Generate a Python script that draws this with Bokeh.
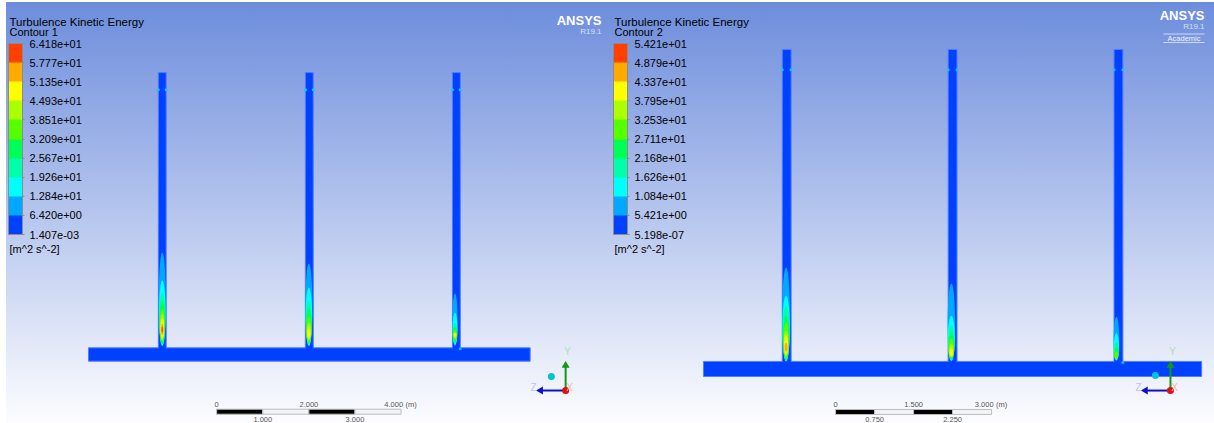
from bokeh.plotting import figure
from bokeh.layouts import row
from bokeh.models import ColorBar, FixedTicker, Label, LinearColorMapper, Range1d
from bokeh.embed import file_html
from bokeh.resources import INLINE
import math

# Contour palette, bottom band to top band
palette = ["#0040ff", "#00a8ff", "#00ffff", "#00ffaa", "#00ff55",
           "#55ff00", "#aaff00", "#ffff00", "#ffaa00", "#ff4000"]
legend_1 = ["1.407e-03", "6.420e+00", "1.284e+01", "1.926e+01", "2.567e+01", "3.209e+01",
            "3.851e+01", "4.493e+01", "5.135e+01", "5.777e+01", "6.418e+01"]
legend_2 = ["5.198e-07", "5.421e+00", "1.084e+01", "1.626e+01", "2.168e+01", "2.711e+01",
            "3.253e+01", "3.795e+01", "4.337e+01", "4.879e+01", "5.421e+01"]

# Geometry in metres
header_length = 9.58
header_height = 0.29
pipe_centres = [1.60, 4.79, 7.98]
pipe_width = 0.17
pipe_top_1 = 6.26
pipe_top_2 = 6.29

# Plume contour tops / bottoms (m), band 1 upward, per pipe
tops_1 = [[2.36, 1.75, 1.49, 1.32, 1.14, 1.03, 0.93, 0.82, 0.75],
          [2.12, 1.60, 1.32, 1.14, 0.97, 0.84, 0.73],
          [1.47, 1.05, 0.83, 0.74, 0.68, 0.63, 0.61]]
bottoms_1 = [[0.33, 0.33, 0.36, 0.38, 0.42, 0.45, 0.49, 0.56, 0.62],
             [0.33, 0.33, 0.36, 0.38, 0.40, 0.45, 0.50],
             [0.33, 0.35, 0.38, 0.42, 0.46, 0.50, 0.54]]
tops_2 = [[2.10, 1.56, 1.37, 1.17, 1.04, 0.88, 0.79, 0.65],
          [1.79, 1.17, 0.98, 0.83, 0.73, 0.63, 0.54],
          [1.15, 0.83, 0.67, 0.56, 0.48]]
bottoms_2 = [[0.29, 0.29, 0.30, 0.32, 0.35, 0.38, 0.42, 0.48],
             [0.30, 0.30, 0.31, 0.33, 0.35, 0.37, 0.39],
             [0.31, 0.31, 0.32, 0.33, 0.34]]
half_widths = [0.075, 0.072, 0.066, 0.060, 0.052, 0.045, 0.038, 0.028, 0.016]
width_factor_1 = [1.0, 1.0, 0.75]
width_factor_2 = [1.0, 0.95, 0.7]
plume_shift_1 = [0.0, -0.01, -0.03]
plume_shift_2 = [-0.012, -0.024, -0.04]

# Scale bars (m)
bar_ticks_1 = [0, 1, 2, 3, 4]
bar_labels_1 = ["0", "1.000", "2.000", "3.000", "4.000"]
bar_ticks_2 = [0, 0.75, 1.5, 2.25, 3]
bar_labels_2 = ["0", "0.750", "1.500", "2.250", "3.000"]

FONT = "Liberation Sans"
STOPS = "linear-gradient(180deg, #6d8ddc 0%, #fdfdff 100%)"


def panel(width, x_left, scale, top_y, title, contour, labels, pipe_top, tops, bottoms, shifts, factors,
          legend_x, text_x, notch_y, bar_x, bar_y, ticks, tick_labels, triad_x, triad_y, dot, logo,
          academic, background):
    height = 423
    p = figure(width=width, height=height, output_backend="svg", toolbar_location=None,
               x_range=Range1d(x_left, x_left + width / scale),
               y_range=Range1d(top_y - height / scale, top_y),
               min_border=0, background_fill_color=None, border_fill_color=None,
               outline_line_color=None, tools="")
    p.styles = {"background": background}
    p.axis.visible = False
    p.grid.visible = False
    px = lambda n: n / scale

    def label(x, y, text, size, color="#000000", align="left", style="normal", units="screen"):
        p.add_layout(Label(x=x, y=y, x_units=units, y_units=units, text=text, text_font=FONT,
                           text_font_size=size, text_color=color, text_align=align,
                           text_baseline="middle", text_font_style=style))

    # Pipes and header
    edge = "#4f7dff"
    p.quad(left=[0], right=[header_length], bottom=[0], top=[header_height],
           fill_color=palette[0], line_color=edge, line_width=1)
    lefts = [c - pipe_width / 2 for c in pipe_centres]
    rights = [c + pipe_width / 2 for c in pipe_centres]
    p.quad(left=lefts, right=rights, bottom=[header_height] * 3, top=[pipe_top] * 3,
           fill_color=palette[0], line_color=edge, line_width=1)
    p.quad(left=[l + 0.01 for l in lefts], right=[r - 0.01 for r in rights],
           bottom=[header_height - 0.03] * 3, top=[header_height + 0.03] * 3,
           fill_color=palette[0], line_color=None)

    # Plumes
    for c, t_list, b_list, sh, f in zip(pipe_centres, tops, bottoms, shifts, factors):
        for i, (t, b) in enumerate(zip(t_list, b_list)):
            p.ellipse(x=[c + sh], y=[(t + b) / 2], width=[2 * half_widths[i] * f], height=[t - b],
                      fill_color=palette[i + 1], line_color=None)

    # Wall notches
    for c in pipe_centres:
        p.scatter(x=[c - pipe_width / 2, c + pipe_width / 2], y=[notch_y, notch_y], size=3,
                  marker="circle", fill_color="#10c8ff", line_color=None)
    p.scatter(x=[pipe_centres[2] + pipe_width / 2], y=[header_height - 0.02], size=3,
              marker="circle", fill_color="#10b8ff", line_color=None)

    # Legend
    mapper = LinearColorMapper(palette=palette, low=0, high=10)
    cb = ColorBar(color_mapper=mapper, location=(legend_x, 189), width=14, height=191,
                  padding=0, margin=0, ticker=FixedTicker(ticks=list(range(11))),
                  major_label_overrides={i: s for i, s in enumerate(labels)},
                  major_label_text_font=FONT, major_label_text_font_size="11px",
                  major_label_text_color="#000000", major_tick_in=0, major_tick_out=2,
                  major_tick_line_color="#8c8c8c", minor_tick_line_color=None,
                  bar_line_color="#8c8c8c", bar_line_width=1, label_standoff=5,
                  background_fill_color=None, border_line_color=None)
    p.add_layout(cb, "center")
    label(text_x, 402, title, "11.5px")
    label(text_x, 391.5, contour, "11px")
    label(text_x, 175, "[m^2 s^-2]", "11px")

    # Logo
    lx, ly = logo
    label(lx, ly, "ANSYS", "13px", "#ffffff", "right", "bold")
    label(lx, ly - 11, "R19.1", "8px", "#d6e0f8", "right")
    if academic:
        label(lx - 4, ly - 23, "Academic", "7.5px", "#eef2ff", "right")
        for dy in (18.5, 27):
            yy = top_y - (423 - (ly - dy)) / scale
            p.segment(x0=[x_left + (lx - 41) / scale], y0=[yy], x1=[x_left + lx / scale], y1=[yy],
                      line_color="#e4eaff", line_width=1, line_alpha=0.8)

    # Scale bar
    for i in range(4):
        p.quad(left=[bar_x + ticks[i]], right=[bar_x + ticks[i + 1]], bottom=[bar_y], top=[bar_y + px(5)],
               fill_color="#000000" if i % 2 == 0 else "#f2f3f6", line_color="#bdbdbd", line_width=1)
    for i, (t, s) in enumerate(zip(ticks, tick_labels)):
        yy = bar_y + px(10) if i % 2 == 0 else bar_y - px(5)
        align = "right" if i == 4 else "center"
        label(bar_x + t + (px(2) if i == 4 else 0), yy, s, "7.5px", "#555555", align, units="data")
    label(bar_x + ticks[-1] + px(10), bar_y + px(10), "(m)", "7.5px", "#555555", "center", units="data")

    # Triad
    p.segment(x0=[triad_x], y0=[triad_y], x1=[triad_x], y1=[triad_y + px(24)], line_color="#109a10", line_width=2)
    p.scatter(x=[triad_x], y=[triad_y + px(25)], marker="triangle", size=8, fill_color="#109a10", line_color=None)
    p.segment(x0=[triad_x], y0=[triad_y], x1=[triad_x - px(24)], y1=[triad_y], line_color="#1010c8", line_width=2)
    p.scatter(x=[triad_x - px(25)], y=[triad_y], marker="triangle", size=8, angle=math.pi / 2,
              fill_color="#1010c8", line_color=None)
    p.scatter(x=[triad_x], y=[triad_y], marker="circle", size=7, fill_color="#e01010", line_color=None)
    p.scatter(x=[dot[0]], y=[dot[1]], marker="circle", size=7, fill_color="#00c4d4", line_color=None)
    label(triad_x + px(2), triad_y + px(39), "Y", "10px", "#b4dcb4", "center", units="data")
    label(triad_x - px(32), triad_y + px(3), "Z", "10px", "#c0c0f4", "center", units="data")
    label(triad_x + px(4), triad_y + px(3), "X", "10px", "#f4b4b4", "center", units="data")
    return p


left = panel(608, -1.909, 46.1, 7.824, "Turbulence Kinetic Energy", "Contour 1", legend_1, pipe_top_1,
             tops_1, bottoms_1, plume_shift_1, width_factor_1, 8, 9, 5.89, 2.78, -1.15, bar_ticks_1, bar_labels_1,
             10.35, -0.636, (10.04, -0.33), (601, 403.5), False,
             STOPS + " 6px 2px / 602px 421px no-repeat")
right = panel(606, -1.827, 52.0, 7.231, "Turbulence Kinetic Energy", "Contour 2", legend_2, pipe_top_2,
              tops_2, bottoms_2, plume_shift_2, width_factor_2, 5, 6, 5.90, 2.54, -0.73, bar_ticks_2, bar_labels_2,
              8.98, -0.27, (8.69, 0.02), (596, 408), True,
              STOPS + " 0 2px / 606px 421px no-repeat")

layout = row(left, right, spacing=0)
open("out.html", "w").write(file_html(layout, INLINE))
